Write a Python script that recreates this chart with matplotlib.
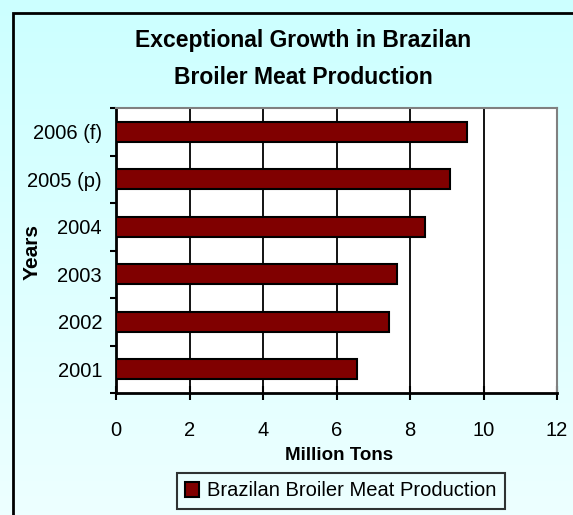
import numpy as np
import matplotlib.pyplot as plt
from matplotlib import font_manager
from matplotlib.patches import Rectangle

# the original uses a narrow Arial-like face; use the narrow Liberation face if present
names = {f.name for f in font_manager.fontManager.ttflist}
narrow = 'Liberation Sans Narrow' in names
if narrow:
    plt.rcParams['font.family'] = ['Liberation Sans Narrow', 'DejaVu Sans']
    fs = dict(title=19, tick=15.5, xlabel=15, ylabel=17, legend=17)
else:
    plt.rcParams['font.family'] = ['Liberation Sans', 'DejaVu Sans']
    fs = dict(title=16.5, tick=14.5, xlabel=13.5, ylabel=15, legend=14.5)

# Data
years = ['2001', '2002', '2003', '2004', '2005 (p)', '2006 (f)']
production = [6.57, 7.42, 7.65, 8.42, 9.1, 9.55]
series_name = 'Brazilan Broiler Meat Production'

W, H = 573, 515
fig = plt.figure(figsize=(W / 100, H / 100), dpi=100)

# light cyan gradient background
bg = fig.add_axes([0, 0, 1, 1], zorder=-10)
grad = np.linspace(0, 1, 256).reshape(-1, 1)
c_top = np.array([0.80, 1.0, 1.0])
c_bot = np.array([0.93, 1.0, 1.0])
img = c_top + grad[..., None] * (c_bot - c_top)
bg.imshow(img, aspect='auto', extent=[0, 1, 0, 1])
bg.set_axis_off()

# outer frame (runs off the right and bottom edges)
fig.patches.append(Rectangle((13 / W, -0.05), 1.1, 1 - 13 / H + 0.05,
                             transform=fig.transFigure, fill=False,
                             edgecolor='black', linewidth=2))

# plot area
left, right, top, bottom = 116, 557, 108, 393
ax = fig.add_axes([left / W, 1 - bottom / H, (right - left) / W, (bottom - top) / H])
ax.set_facecolor('white')

ypos = np.arange(len(years))
ax.barh(ypos, production, height=0.42, color='#800000', edgecolor='black',
        linewidth=1.5, zorder=3, label=series_name)

ax.set_xlim(0, 12)
ax.set_ylim(-0.5, len(years) - 0.5)
ax.set_xticks(np.arange(0, 13, 2))
ax.xaxis.grid(True, color='black', linewidth=1.3)
ax.set_axisbelow(True)

ax.set_yticks(ypos)
ax.set_yticklabels(years)
ax.set_yticks(np.arange(-0.5, len(years)), minor=True)
ax.tick_params(axis='y', which='major', length=0, labelsize=fs['tick'], pad=10)
ax.tick_params(axis='y', which='minor', length=4, width=1.5, direction='out')
ax.tick_params(axis='x', length=10, width=1.5, direction='inout', labelsize=fs['tick'], pad=15)

for s in ['top', 'right']:
    ax.spines[s].set_color('#808080')
    ax.spines[s].set_linewidth(1.5)
for s in ['left', 'bottom']:
    ax.spines[s].set_color('black')
    ax.spines[s].set_linewidth(2)

# titles and axis labels
fig.text(303 / W, 1 - 41 / H, 'Exceptional Growth in Brazilan', ha='center', va='center',
         fontsize=fs['title'], fontweight='bold')
fig.text(303 / W, 1 - 77 / H, 'Broiler Meat Production', ha='center', va='center',
         fontsize=fs['title'], fontweight='bold')
fig.text(339 / W, 1 - 455 / H, 'Million Tons', ha='center', va='center',
         fontsize=fs['xlabel'], fontweight='bold')
fig.text(32 / W, 1 - 252 / H, 'Years', rotation=90, ha='center', va='center',
         fontsize=fs['ylabel'], fontweight='bold')

leg = fig.legend(loc='center', bbox_to_anchor=(341 / W, 1 - 491 / H), fontsize=fs['legend'],
                 frameon=True, fancybox=False, handlelength=0.7, handleheight=0.7,
                 handletextpad=0.4, borderpad=0.4)
leg.get_frame().set_edgecolor('black')
leg.get_frame().set_linewidth(1.5)
leg.get_frame().set_facecolor('none')

fig.savefig('out.png', dpi=100)
